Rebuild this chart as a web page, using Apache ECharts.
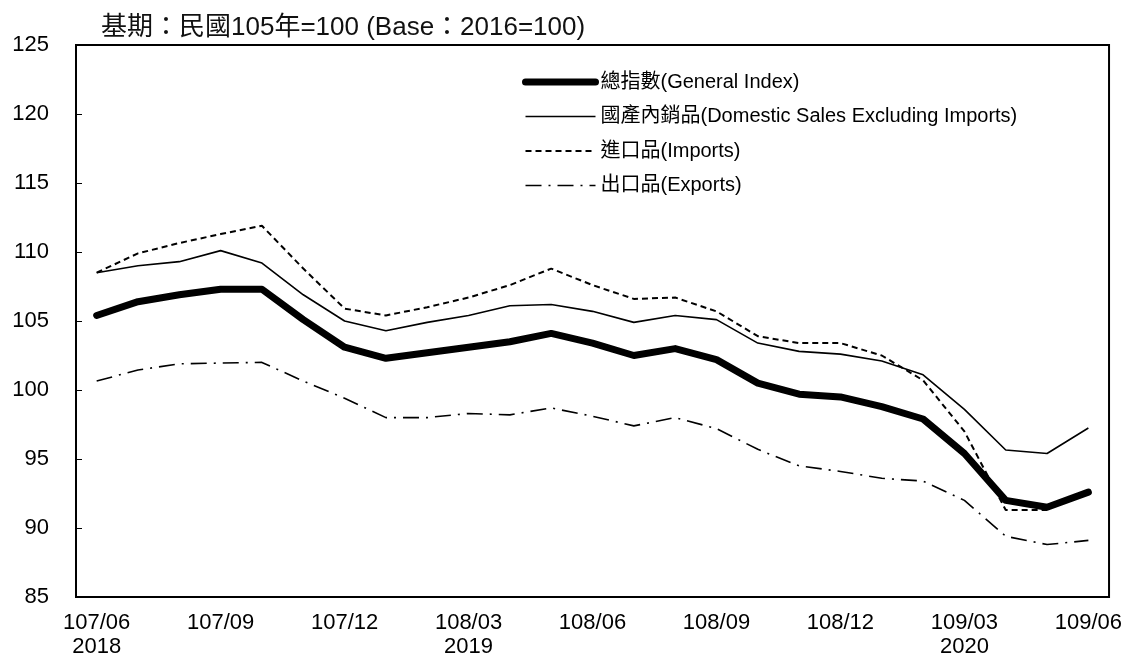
<!DOCTYPE html>
<html>
<head>
<meta charset="utf-8">
<script src="https://cdn.jsdelivr.net/npm/echarts@6/dist/echarts.min.js"></script>
<style>html,body{margin:0;padding:0;background:#fff}#c{width:1125px;height:659px}</style>
</head>
<body>
<div id="c"></div>
<script>
var categories = ['107/06','107/07','107/08','107/09','107/10','107/11','107/12','108/01','108/02','108/03','108/04','108/05','108/06','108/07','108/08','108/09','108/10','108/11','108/12','109/01','109/02','109/03','109/04','109/05','109/06'];
var yearLabels = {'107/06':'2018','108/03':'2019','109/03':'2020'};
var generalIndex = [105.4,106.4,106.9,107.3,107.3,105.1,103.1,102.3,102.7,103.1,103.5,104.1,103.4,102.5,103.0,102.2,100.5,99.7,99.5,98.8,97.9,95.4,92.0,91.5,92.6];
var domesticSales = [108.5,109.0,109.3,110.1,109.2,106.9,105.0,104.3,104.9,105.4,106.1,106.2,105.7,104.9,105.4,105.1,103.4,102.8,102.6,102.1,101.1,98.6,95.65,95.4,97.25];
var imports = [108.5,109.9,110.65,111.3,111.9,108.8,105.9,105.4,106.0,106.7,107.6,108.8,107.6,106.6,106.7,105.7,103.9,103.4,103.4,102.5,100.7,97.0,91.3,91.3,null];
var exportsData = [100.65,101.45,101.9,101.95,102.0,100.65,99.4,98.0,98.0,98.3,98.2,98.7,98.1,97.4,98.0,97.2,95.7,94.5,94.1,93.6,93.4,92.0,89.4,88.8,89.1];
var seriesNames = ['總指數(General Index)','國產內銷品(Domestic Sales Excluding Imports)','進口品(Imports)','出口品(Exports)'];
var titleText = '基期：民國105年=100 (Base：2016=100)';

var font = '"Liberation Sans", Arial, "Noto Sans CJK TC", sans-serif';
var chart = echarts.init(document.getElementById('c'), null, {renderer:'canvas'});
chart.setOption({
  animation: false,
  backgroundColor: '#fff',
  title: {
    text: titleText, left: 96, top: 10,
    textStyle: {fontFamily: font, fontSize: 26, fontWeight: 'normal', color: '#111'}
  },
  legend: {
    orient: 'vertical', left: 522, top: 72, padding: 0, itemWidth: 70, itemHeight: 20, itemGap: 14.5,
    textStyle: {fontFamily: font, fontSize: 20, color: '#000'},
    itemStyle: {opacity: 0},
    lineStyle: {width: 'inherit'},
    data: [
      {name: seriesNames[0], lineStyle: {width: 7, cap: 'round'}},
      {name: seriesNames[1]},
      {name: seriesNames[2]},
      {name: seriesNames[3]}
    ]
  },
  grid: {left: 76, right: 15, top: 45, bottom: 62, show: true, borderColor: '#000', borderWidth: 2},
  xAxis: {
    type: 'category', data: categories, boundaryGap: true,
    axisLine: {lineStyle: {color: '#000', width: 2}},
    axisTick: {inside: true, length: 7, interval: 0, lineStyle: {color: '#000', width: 1}},
    axisLabel: {
      interval: 2, margin: 14, fontFamily: font, fontSize: 22, color: '#000', lineHeight: 24,
      formatter: function (v) { return yearLabels[v] ? v + '\n' + yearLabels[v] : v; }
    },
    splitLine: {show: false}
  },
  yAxis: {
    type: 'value', min: 85, max: 125, interval: 5,
    axisLine: {show: true, lineStyle: {color: '#000', width: 2}},
    axisTick: {show: true, inside: true, length: 6, lineStyle: {color: '#000', width: 1}},
    axisLabel: {margin: 27, fontFamily: font, fontSize: 22, color: '#000'},
    splitLine: {show: false}
  },
  series: [
    {name: seriesNames[0], type: 'line', data: generalIndex, symbol: 'none', z: 5,
     lineStyle: {color: '#000', width: 7, cap: 'round', join: 'round'}, itemStyle: {color: '#000'}},
    {name: seriesNames[1], type: 'line', data: domesticSales, symbol: 'none', z: 4,
     lineStyle: {color: '#000', width: 1.6}, itemStyle: {color: '#000'}},
    {name: seriesNames[2], type: 'line', data: imports, symbol: 'none', z: 3,
     lineStyle: {color: '#000', width: 2, type: [6, 4]}, itemStyle: {color: '#000'}},
    {name: seriesNames[3], type: 'line', data: exportsData, symbol: 'none', z: 3,
     lineStyle: {color: '#000', width: 1.6, type: [16, 7, 2, 7]}, itemStyle: {color: '#000'}}
  ]
});
</script>
</body>
</html>
